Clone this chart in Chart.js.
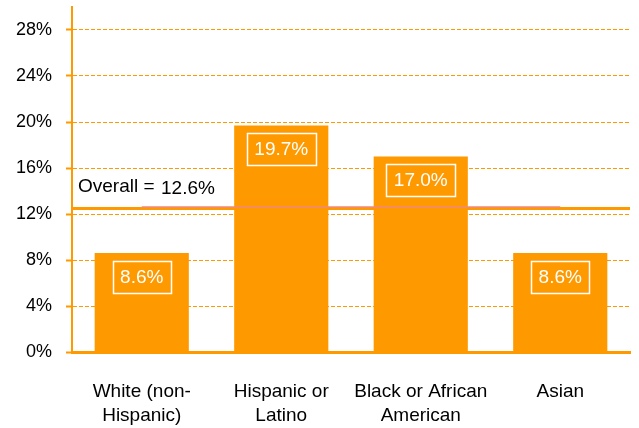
<!DOCTYPE html>
<html>
<head>
<meta charset="utf-8">
<script src="https://cdn.jsdelivr.net/npm/chart.js@4"></script>
<style>
  html, body { margin: 0; padding: 0; background: #fff; }
  #wrap { width: 639px; height: 428px; }
</style>
</head>
<body>
<div id="wrap"><canvas id="raceChart"></canvas></div>
<script>
// data
var groups = [['White (non-', 'Hispanic)'], ['Hispanic or', 'Latino'], ['Black or African', 'American'], 'Asian'];
var rates = [8.6, 19.7, 17.0, 8.6];
var overall = 12.6;
var overallLine = [12.6, 12.6, 12.6, 12.6];
var tickValues = [0, 4, 8, 12, 16, 20, 24, 28];

var orange = '#ff9900';
var fontName = '"Liberation Sans", Arial, sans-serif';

// boxed white value labels inside the bars
var barLabels = {
  id: 'barLabels',
  afterDatasetsDraw: function (chart) {
    var ctx = chart.ctx;
    var meta = chart.getDatasetMeta(1);
    ctx.save();
    ctx.font = '19px ' + fontName;
    ctx.textAlign = 'center';
    ctx.textBaseline = 'middle';
    meta.data.forEach(function (bar, i) {
      var txt = rates[i].toFixed(1) + '%';
      var w = ctx.measureText(txt).width + 15;
      var h = 32;
      var top = bar.y + 7.5;
      ctx.strokeStyle = '#fff';
      ctx.lineWidth = 1.5;
      ctx.strokeRect(Math.round(bar.x - w / 2) + 0.5, Math.round(top) + 0.5, Math.round(w), h);
      ctx.fillStyle = '#fff';
      ctx.fillText(txt, bar.x, top + h / 2 + 1);
    });
    ctx.restore();
  }
};

// thick overall line + its label
var overallMark = {
  id: 'overallMark',
  beforeDatasetsDraw: function (chart) {
    var ctx = chart.ctx;
    var area = chart.chartArea;
    var y = chart.scales.y.getPixelForValue(overall);
    ctx.save();
    ctx.strokeStyle = orange;
    ctx.lineWidth = 3;
    ctx.beginPath();
    ctx.moveTo(area.left, y + 1.5);
    ctx.lineTo(area.right, y + 1.5);
    ctx.stroke();
    ctx.fillStyle = '#000';
    ctx.font = '19px ' + fontName;
    ctx.textBaseline = 'alphabetic';
    ctx.fillText('Overall =', area.left + 6, y - 15);
    ctx.fillText('12.6%', area.left + 89, y - 13);
    ctx.restore();
  }
};

new Chart('raceChart', {
  type: 'bar',
  data: {
    labels: groups,
    datasets: [{
      type: 'line',
      data: overallLine,
      borderColor: '#f08a7a',
      borderWidth: 1.5,
      pointRadius: 0,
      order: 0
    }, {
      data: rates,
      backgroundColor: orange,
      borderWidth: 0,
      barPercentage: 0.675,
      categoryPercentage: 1,
      order: 1
    }]
  },
  options: {
    responsive: true,
    maintainAspectRatio: false,
    animation: false,
    layout: { padding: { top: 7, right: 9, left: 0, bottom: 0 } },
    plugins: {
      legend: { display: false },
      tooltip: { enabled: false }
    },
    scales: {
      x: {
        grid: { display: false },
        border: { color: orange, width: 3 },
        ticks: {
          color: '#000',
          padding: 20,
          maxRotation: 0,
          font: { family: fontName, size: 19, lineHeight: '24px' }
        },
        afterFit: function (scale) { scale.height = 76; }
      },
      y: {
        min: 0,
        max: 30,
        afterBuildTicks: function (scale) {
          scale.ticks = tickValues.map(function (v) { return { value: v }; });
        },
        grid: {
          color: orange,
          lineWidth: 1,
          tickBorderDash: [],
          tickColor: orange,
          tickLength: 6,
          tickWidth: 2
        },
        border: { color: orange, width: 2, dash: [4, 2] },
        ticks: {
          color: '#000',
          padding: 14,
          font: { family: fontName, size: 18 },
          callback: function (v) { return v + '%'; }
        },
        afterFit: function (scale) {
          scale.width = 72;
          scale.paddingTop = 0;
        }
      }
    }
  },
  plugins: [overallMark, barLabels]
});
</script>
</body>
</html>
